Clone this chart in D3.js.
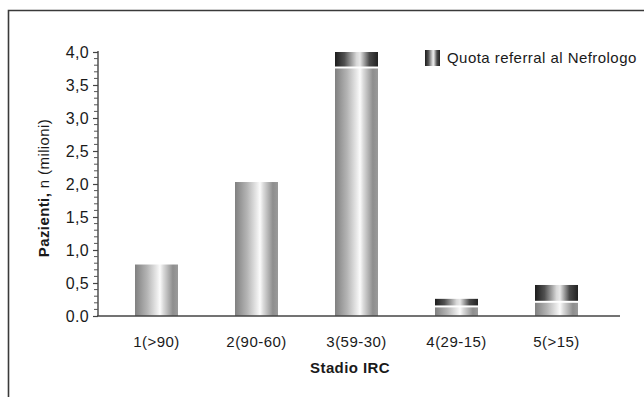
<!DOCTYPE html>
<html>
<head>
<meta charset="utf-8">
<script src="https://cdn.jsdelivr.net/npm/d3@7"></script>
<style>
  html, body { margin: 0; padding: 0; background: #fff; }
  svg { display: block; }
  text { font-family: "Liberation Sans", Arial, sans-serif; fill: #1a1a1a; }
</style>
</head>
<body>
<svg id="chart" width="644" height="397"></svg>
<script>
// ---- data ----
const categories = ["1(>90)", "2(90-60)", "3(59-30)", "4(29-15)", "5(>15)"];
const baseValues = [0.78, 2.03, 3.75, 0.13, 0.20];      // pazienti non riferiti
const referralValues = [0, 0, 0.25, 0.13, 0.27];        // quota referral al Nefrologo
const yTickValues = [0, 0.5, 1, 1.5, 2, 2.5, 3, 3.5, 4];
const yTickLabels = ["0.0", "0,5", "1,0", "1,5", "2,0", "2,5", "3,0", "3,5", "4,0"];
const xTitle = "Stadio IRC";
const yTitleBold = "Pazienti,";
const yTitleRest = " n (milioni)";
const legendLabel = "Quota referral al Nefrologo";

const svg = d3.select("#chart");

// frame
svg.append("path")
  .attr("d", "M8.5,397 L8.5,10.5 L644,10.5")
  .attr("fill", "none").attr("stroke", "#3a3a3a").attr("stroke-width", 1.6);

// gradients
const defs = svg.append("defs");
const g1 = defs.append("linearGradient").attr("id", "gMain").attr("x1", "0").attr("x2", "1").attr("y1", "0").attr("y2", "0");
[[0, "#808080"], [0.28, "#b4b4b4"], [0.52, "#ececec"], [0.58, "#fbfbfb"], [0.66, "#dadada"], [0.88, "#8e8e8e"], [1, "#9a9a9a"]]
  .forEach(([o, c]) => g1.append("stop").attr("offset", o).attr("stop-color", c));
const g2 = defs.append("linearGradient").attr("id", "gRef").attr("x1", "0").attr("x2", "1").attr("y1", "0").attr("y2", "0");
[[0, "#1c1c1c"], [0.22, "#505050"], [0.5, "#d8d8d8"], [0.58, "#e8e8e8"], [0.8, "#4a4a4a"], [1, "#222"]]
  .forEach(([o, c]) => g2.append("stop").attr("offset", o).attr("stop-color", c));

// scales
const x = d3.scaleBand().domain(categories).range([106.5, 606.5]).paddingInner(0.57).paddingOuter(0.285);
const y = d3.scaleLinear().domain([0, 4]).range([316, 52]);

// y axis (major + minor ticks)
const yAxis = d3.axisLeft(y).tickValues(yTickValues)
  .tickFormat((d, i) => yTickLabels[i]).tickSize(5).tickPadding(4);
const ga = svg.append("g").attr("transform", "translate(98,0)").call(yAxis);
ga.select(".domain").attr("stroke", "#444").attr("stroke-width", 1.4).attr("d", "M0," + y(0) + "V" + (y(4) - 1));
ga.selectAll(".tick line").attr("stroke", "#444").attr("stroke-width", 1.2);
ga.selectAll(".tick text").style("font-size", "16px").style("letter-spacing", "0.3px").attr("fill", "#1a1a1a");
const minor = d3.range(0, 4.001, 0.1).filter(v => Math.abs(v * 2 - Math.round(v * 2)) > 1e-6);
svg.append("g").selectAll("line").data(minor).join("line")
  .attr("x1", 94).attr("x2", 98).attr("y1", d => y(d)).attr("y2", d => y(d))
  .attr("stroke", "#555").attr("stroke-width", 1);

// bars
const bars = svg.append("g");
categories.forEach((c, i) => {
  const b = baseValues[i], r = referralValues[i];
  bars.append("rect").attr("x", x(c)).attr("width", x.bandwidth())
    .attr("y", y(b)).attr("height", y(0) - y(b)).attr("fill", "url(#gMain)");
  if (r > 0) {
    bars.append("rect").attr("x", x(c)).attr("width", x.bandwidth())
      .attr("y", y(b + r)).attr("height", Math.max(0, y(b) - y(b + r) - 2)).attr("fill", "url(#gRef)");
  }
});

// x axis
const xAxis = d3.axisBottom(x).tickSize(0).tickPadding(20);
const gx = svg.append("g").attr("transform", "translate(0," + y(0) + ")").call(xAxis);
gx.select(".domain").attr("stroke", "#444").attr("stroke-width", 1.6).attr("d", "M97,0H620");
gx.selectAll(".tick text").style("font-size", "15px").style("letter-spacing", "0.45px").attr("fill", "#1a1a1a");

// axis titles
svg.append("text").attr("x", 350).attr("y", 373).attr("text-anchor", "middle")
  .style("font-size", "15px").style("font-weight", "bold").style("letter-spacing", "0.4px").text(xTitle);
const yt = svg.append("text").attr("transform", "translate(49,188) rotate(-90)").attr("text-anchor", "middle")
  .style("font-size", "15px").style("letter-spacing", "0.4px");
yt.append("tspan").style("font-weight", "bold").text(yTitleBold);
yt.append("tspan").text(yTitleRest);

// legend
svg.append("rect").attr("x", 425).attr("y", 50).attr("width", 15).attr("height", 16).attr("fill", "url(#gRef)");
svg.append("text").attr("x", 447).attr("y", 63).style("font-size", "15px").style("letter-spacing", "0.45px").text(legendLabel);
</script>
</body>
</html>
